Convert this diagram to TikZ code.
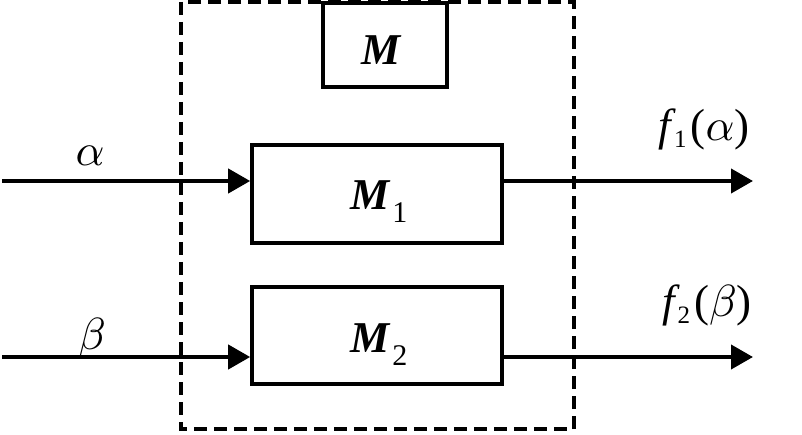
\documentclass[tikz,border=0pt]{standalone}
\usepackage{graphicx}
\usepackage{fontspec}
\setmainfont{Liberation Serif}
\usetikzlibrary{arrows.meta}
\newcommand{\bigmath}[1]{\mbox{\fontsize{10}{10}\selectfont\scalebox{4.5}{$#1$}}}
\begin{document}
\begin{tikzpicture}[x=1pt,y=-1pt,
  blk/.style={draw=black,line width=3.6pt,inner sep=0pt},
  dashbox/.style={draw=black,line width=3.6pt,dash pattern=on 13pt off 7pt},
  sig/.style={line width=4pt,-{Triangle[length=22pt,width=24pt]}},
  lbl/.style={inner sep=0pt,anchor=base,font=\fontsize{45}{45}\selectfont\itshape},
  mlbl/.style={inner sep=0pt,anchor=base west,font=\fontsize{44}{44}\selectfont\bfseries\itshape}]
\useasboundingbox (0,0) rectangle (802,435);
% dashed enclosure
\draw[dashbox] (181,2) rectangle (574,429);
% boxes
\node[blk,minimum width=124pt,minimum height=84pt] (M) at (385,45) {};
\node[blk,minimum width=250pt,minimum height=98pt] (M1) at (377,194) {};
\node[blk,minimum width=250pt,minimum height=97pt] (M2) at (377,335.5) {};
% inputs/outputs
\coordinate (inA) at (2,181);
\coordinate (inB) at (2,357);
\coordinate (outA) at (753,181);
\coordinate (outB) at (753,357);
\draw[sig] (inA) -- (inA -| M1.west);
\draw[sig] (inB) -- (inB -| M2.west);
\draw[sig] (outA -| M1.east) -- (outA);
\draw[sig] (outB -| M2.east) -- (outB);
% labels
\node[mlbl] (tM) at (361,65) {M};
\node[mlbl] (tM1) at (350,210) {M\hspace{3pt}\raisebox{-13pt}{\fontsize{30}{30}\mdseries\upshape 1}};
\node[mlbl] (tM2) at (350,352) {M\hspace{3pt}\raisebox{-13pt}{\fontsize{30}{30}\mdseries\upshape 2}};
\node[lbl] (ta) at (90,166) {\bigmath{\alpha}};
\node[lbl] (tb) at (92,349) {\bigmath{\beta}};
\node[lbl] (tfa) at (704,141) {f\hspace{3pt}\raisebox{-7pt}{\fontsize{25}{25}\selectfont\upshape 1}\hspace{4pt}\upshape(\bigmath{\alpha})};
\node[lbl] (tfb) at (707,316) {f\hspace{3pt}\raisebox{-7pt}{\fontsize{25}{25}\selectfont\upshape 2}\hspace{4pt}\upshape(\bigmath{\beta})};
\end{tikzpicture}
\end{document}
